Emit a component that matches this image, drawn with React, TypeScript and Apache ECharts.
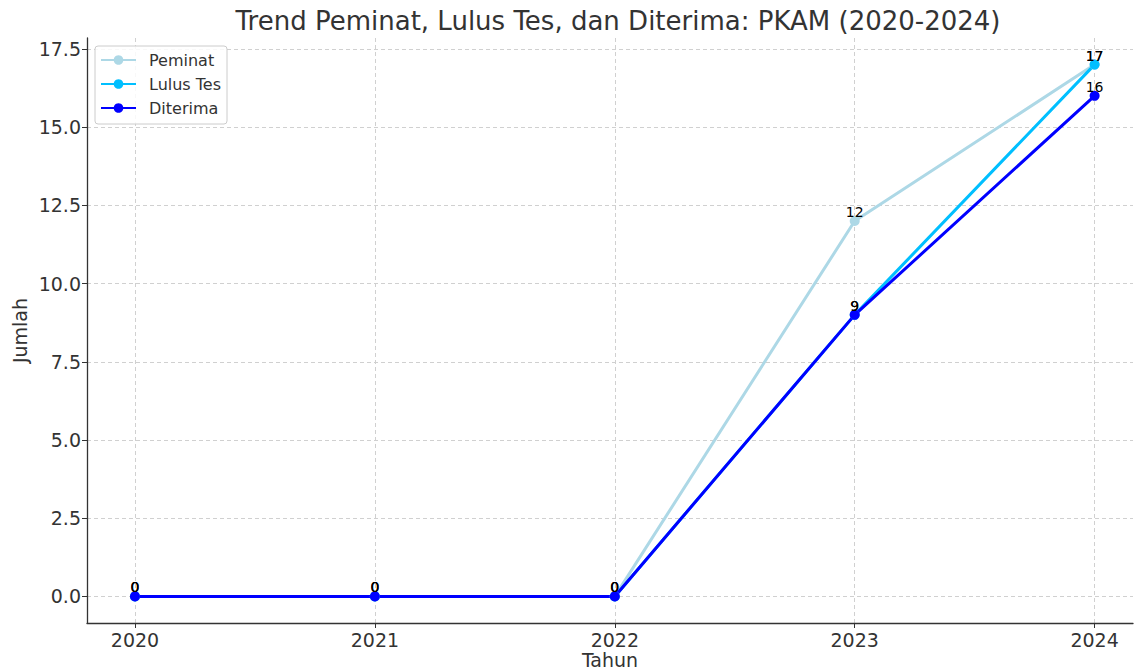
import React, { useEffect, useRef } from "react";
import * as echarts from "echarts";

const years = [2020, 2021, 2022, 2023, 2024];
const peminat = [0, 0, 0, 12, 17];
const lulusTes = [0, 0, 0, 9, 17];
const diterima = [0, 0, 0, 9, 16];
const yTicks = [0, 2.5, 5, 7.5, 10, 12.5, 15, 17.5];

const FONT = "DejaVu Sans";

function mkSeries(name: string, values: number[], color: string) {
  return {
    name,
    type: "line",
    data: years.map((y, i) => [y, values[i]]),
    symbol: "circle",
    symbolSize: 10,
    lineStyle: { color, width: 3 },
    itemStyle: { color },
    label: {
      show: true,
      position: "top",
      distance: 0,
      offset: [0, 3],
      color: "#000",
      fontFamily: FONT,
      fontSize: 14,
      fontWeight: "normal",
      textBorderWidth: 0,
      formatter: (p: any) => String(p.value[1]),
    },
  };
}

export default function App() {
  const ref = useRef<HTMLDivElement>(null);
  useEffect(() => {
    if (!ref.current) return;
    const chart = echarts.init(ref.current, null, { renderer: "svg" });
    chart.setOption({
      animation: false,
      backgroundColor: "#fff",
      title: {
        text: "Trend Peminat, Lulus Tes, dan Diterima: PKAM (2020-2024)",
        left: 613,
        textAlign: "center",
        top: 3,
        textStyle: { fontFamily: FONT, fontSize: 26, fontWeight: "normal", color: "#333" },
      },
      legend: {
        orient: "vertical",
        left: 95,
        top: 46,
        itemWidth: 35,
        itemHeight: 12,
        itemGap: 8,
        padding: [6, 6, 8, 5],
        borderColor: "#ccc",
        borderWidth: 1,
        borderRadius: 3,
        backgroundColor: "rgba(255,255,255,0.85)",
        textStyle: { fontFamily: FONT, fontSize: 16, color: "#333", padding: [0, 0, 0, 8] },
        data: ["Peminat", "Lulus Tes", "Diterima"],
      },
      grid: {
        left: 87,
        right: 2,
        top: 38,
        bottom: 49,
        containLabel: false,
        outerBoundsMode: "none",
      },
      xAxis: {
        type: "value",
        min: 2019.8,
        max: 2024.16,
        name: "Tahun",
        nameLocation: "middle",
        nameGap: 27,
        nameMoveOverlap: false,
        nameTextStyle: { fontFamily: FONT, fontSize: 19, color: "#333", lineHeight: 20 },
        axisLine: { onZero: false, lineStyle: { color: "#333", width: 1.3 } },
        axisTick: { show: true, length: 5, customValues: years, lineStyle: { color: "#333" } },
        axisLabel: {
          customValues: years,
          fontFamily: FONT,
          fontSize: 19,
          color: "#333",
          margin: 7,
          formatter: (v: number) => String(v),
        },
        splitLine: { show: true, lineStyle: { type: [4, 3], color: "#d0d0d0" } },
      },
      yAxis: {
        type: "value",
        min: -0.85,
        max: 17.85,
        name: "Jumlah",
        nameLocation: "middle",
        nameGap: 58,
        nameMoveOverlap: false,
        nameTextStyle: { fontFamily: FONT, fontSize: 19, color: "#333" },
        axisLine: { show: true, onZero: false, lineStyle: { color: "#333", width: 1.3 } },
        axisTick: { show: true, length: 5, customValues: yTicks, lineStyle: { color: "#333" } },
        axisLabel: {
          customValues: yTicks,
          fontFamily: FONT,
          fontSize: 19,
          color: "#333",
          margin: 6,
          formatter: (v: number) => v.toFixed(1),
        },
        splitLine: { show: true, lineStyle: { type: [4, 3], color: "#d0d0d0" } },
      },
      series: [
        mkSeries("Peminat", peminat, "#ADD8E6"),
        mkSeries("Lulus Tes", lulusTes, "#00BFFF"),
        mkSeries("Diterima", diterima, "#0000FF"),
      ],
    });
    return () => chart.dispose();
  }, []);
  return (
    <div
      ref={ref}
      style={{ position: "fixed", left: 0, top: 0, width: 1135, height: 672 }}
    />
  );
}
